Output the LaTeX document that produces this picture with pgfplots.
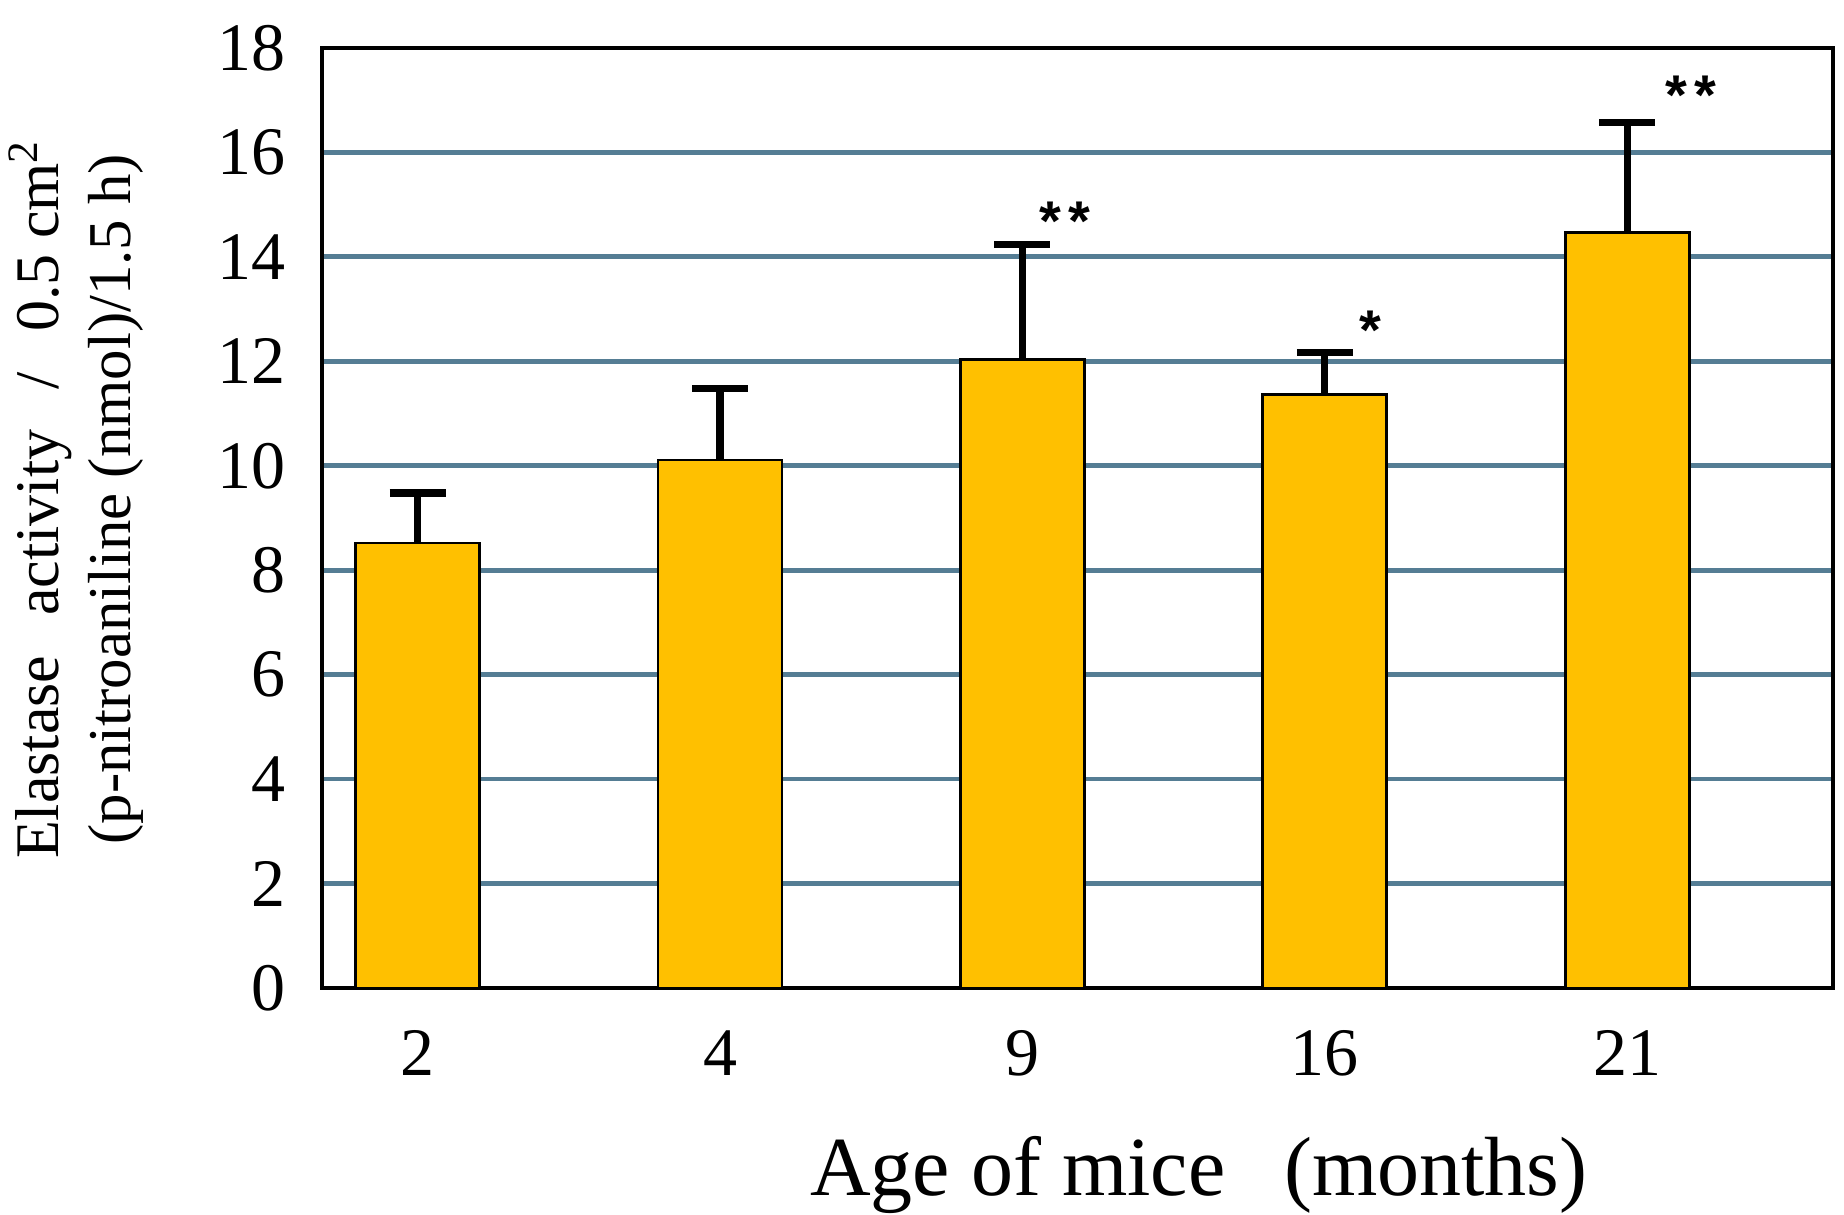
\documentclass[border=0pt]{standalone}
\usepackage{fontspec}
\setmainfont{Liberation Serif}
\newfontfamily\starfont{Liberation Sans}
\usepackage{pgfplots}
\usepackage{pgfplotstable}
\pgfplotsset{compat=1.18}
\definecolor{bargold}{RGB}{255,192,0}
\definecolor{gridblue}{RGB}{85,125,148}

\pgfplotstableread{
x y e
0 8.52 0.96
1 10.11 1.37
2 12.04 2.20
3 11.37 0.80
4 14.47 2.10
}\datatable

\begin{document}
\begin{tikzpicture}
\begin{axis}[
  width=377.75pt, height=235pt, scale only axis,
  xmin=-0.316, xmax=4.68, ymin=0, ymax=18,
  ybar, bar width=0.41,
  xtick={0,...,4}, xticklabels={2,4,9,16,21},
  ytick={0,2,...,18},
  major tick length=0,
  ymajorgrids, grid style={gridblue, line width=1.2pt},
  axis line style={black, line width=1pt},
  tick label style={font=\fontsize{17}{17}\selectfont},
  /pgf/number format/assume math mode=true,
  yticklabel style={inner sep=0pt, xshift=-9pt},
  xticklabel style={inner sep=0pt, yshift=-10.5pt},
  xlabel={Age of mice\hspace{0.7em}(months)},
  xlabel style={font=\fontsize{21}{21}\selectfont, at={(axis description cs:0.5804,-0.199)}, anchor=center},
  ylabel={Elastase\hspace{0.65em}activity\hspace{0.65em}/\hspace{0.65em}0.5 cm\textsuperscript{2}\\{\fontsize{15.2}{17.5}\selectfont(p-nitroaniline (nmol)/1.5 h)}},
  ylabel style={align=center, font=\fontsize{15.5}{18}\selectfont, at={(axis description cs:-0.1628,0.52)}, anchor=center},
]
\addplot[fill=bargold, draw=black, line width=0.7pt,
  error bars/.cd, y dir=plus, y explicit,
  error bar style={line width=1.8pt, black},
  error mark options={rotate=90, mark size=7pt, line width=1.8pt, black}]
  table[x=x, y=y, y error=e]{\datatable};
\node[font=\starfont\bfseries\fontsize{14}{14}\selectfont] at (axis cs:2.14,14.68) {*\hspace{2pt}*};
\node[font=\starfont\bfseries\fontsize{14}{14}\selectfont] at (axis cs:3.15,12.6) {*};
\node[font=\starfont\bfseries\fontsize{14}{14}\selectfont] at (axis cs:4.21,17.1) {*\hspace{2pt}*};
\end{axis}
\pgfresetboundingbox
\path ([xshift=-80.5pt,yshift=-56.75pt]current axis.south west) rectangle ([xshift=2.75pt,yshift=12pt]current axis.north east);
\end{tikzpicture}
\end{document}
